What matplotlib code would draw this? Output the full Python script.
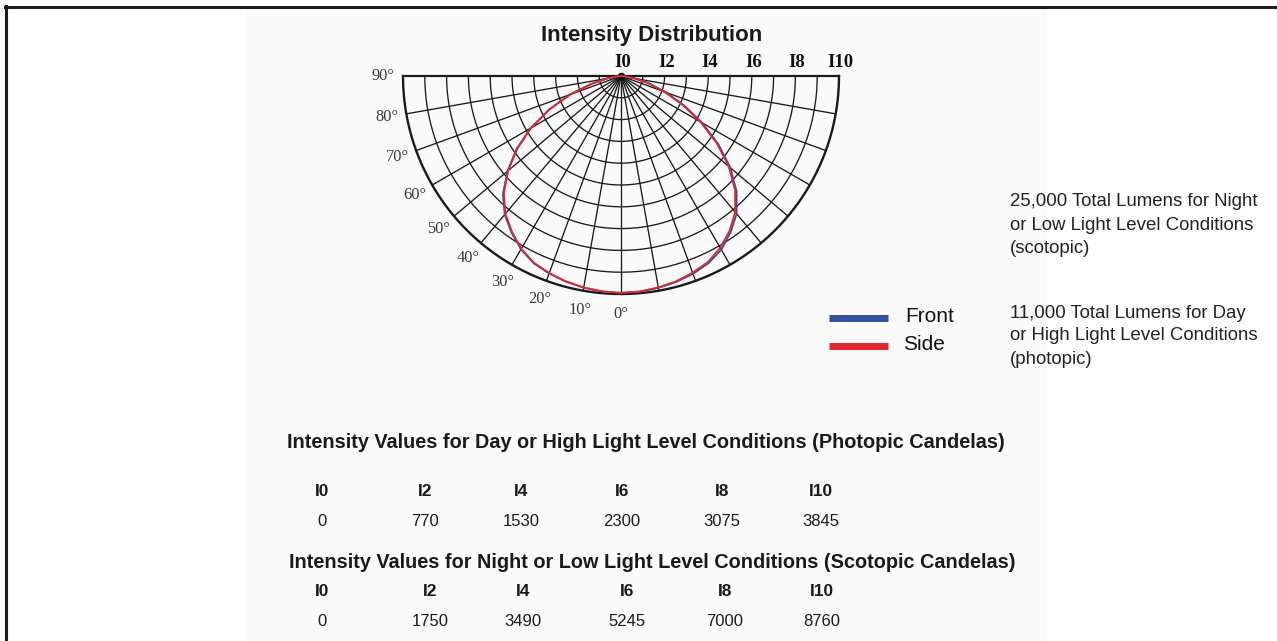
import numpy as np
import matplotlib
matplotlib.use("Agg")
import matplotlib.pyplot as plt
from matplotlib.lines import Line2D
from matplotlib.patches import Rectangle

W, H = 1277, 641

# polar intensity profile, angle measured from straight down (0 deg) to horizontal (90 deg)
angles = [0, 5, 10, 15, 20, 25, 30, 35, 40, 45, 50, 55, 60, 65, 70, 75, 80, 85, 90]
side_left = [9.95, 9.92, 9.85, 9.75, 9.62, 9.45, 9.15, 8.72, 8.25, 7.6, 6.75, 5.8, 4.75, 3.6, 2.45, 1.4, 0.62, 0.18, 0]
side_right = [9.95, 9.92, 9.85, 9.75, 9.6, 9.42, 9.1, 8.68, 8.15, 7.4, 6.45, 5.35, 4.2, 3.1, 2.1, 1.3, 0.6, 0.18, 0]
front_left = [9.95, 9.92, 9.86, 9.77, 9.64, 9.48, 9.18, 8.76, 8.3, 7.66, 6.8, 5.86, 4.8, 3.65, 2.5, 1.43, 0.64, 0.18, 0]
front_right = [9.95, 9.93, 9.87, 9.78, 9.66, 9.48, 9.2, 8.76, 8.25, 7.5, 6.55, 5.45, 4.3, 3.2, 2.2, 1.36, 0.63, 0.18, 0]

ring_labels = ["I0", "I2", "I4", "I6", "I8", "I10"]
deg_labels = [0, 10, 20, 30, 40, 50, 60, 70, 80, 90]

header = ["I0", "I2", "I4", "I6", "I8", "I10"]
photopic = ["0", "770", "1530", "2300", "3075", "3845"]
scotopic = ["0", "1750", "3490", "5245", "7000", "8760"]

blue = "#3250a0"
red = "#e3262b"
sans = "Liberation Sans"
serif = "Liberation Serif"


def fx(px):
    return px / W


def fy(py):
    return 1 - py / H


fig = plt.figure(figsize=(W / 100, H / 100), dpi=100)
fig.patch.set_facecolor("white")

# faint panel + page frame
fig.patches.append(Rectangle((fx(245), 0), fx(1047) - fx(245), fy(8), transform=fig.transFigure,
                             facecolor="#fafafa", edgecolor="none", zorder=-5))
fig.add_artist(Line2D([fx(5), 1], [fy(6.5), fy(6.5)], lw=2.2, color="#1c1c1c"))
fig.add_artist(Line2D([fx(6), fx(6)], [fy(5.5), 0], lw=2.2, color="#1c1c1c"))

# polar diagram drawn in a cartesian axes, 1 unit = U pixels
U = 21.8
cx, cy = 621, 76
ax = fig.add_axes([fx(cx - 13 * U), fy(cy + 12 * U), 26 * U / W, 15 * U / H])
ax.set_xlim(-13, 13)
ax.set_ylim(-12, 3)
ax.axis("off")

t = np.linspace(np.pi, 2 * np.pi, 300)
for r in range(1, 11):
    ax.plot(r * np.cos(t), r * np.sin(t), color="#1a1a1a", lw=1.7 if r == 10 else 0.95, zorder=2)
for a in range(0, 181, 10):
    p = np.radians(180 + a)
    ax.plot([0, 10 * np.cos(p)], [0, 10 * np.sin(p)], color="#1a1a1a",
            lw=1.6 if a in (0, 180) else 0.95, zorder=2)
ax.plot(0, 0, "o", ms=4.5, color="black", zorder=3)


def curve(left, right):
    th = np.radians(angles)
    lv = np.array(left)
    rv = np.array(right)
    x = np.concatenate([(-lv * np.sin(th))[::-1], rv * np.sin(th)])
    y = np.concatenate([(-lv * np.cos(th))[::-1], -rv * np.cos(th)])
    return x, y


xf, yf = curve(front_left, front_right)
xs, ys = curve(side_left, side_right)
ax.plot(xf, yf, color=blue, lw=1.3, zorder=4, solid_joinstyle="round")
ax.plot(xs, ys, color=red, lw=1.3, zorder=5, solid_joinstyle="round")

for d in deg_labels:
    th = np.radians(d)
    ax.text(-10.9 * np.sin(th), -10.9 * np.cos(th), f"{d}°", ha="center", va="center",
            fontsize=11.8, family=serif, color="#3a3a3a")

for i, lab in enumerate(ring_labels):
    ax.text(2 * i + 0.08, 0.62, lab, ha="center", va="center", fontsize=13.5, family=serif,
            fontweight="bold", color="#111111")

fig.text(fx(652), fy(35), "Intensity Distribution", ha="center", va="center", fontsize=16,
         family=sans, fontweight="bold", color="#1a1a1a")

# legend
fig.add_artist(Line2D([fx(829), fx(888)], [fy(318), fy(318)], lw=5, color=blue, solid_capstyle="butt"))
fig.add_artist(Line2D([fx(829), fx(888)], [fy(346), fy(346)], lw=5, color=red, solid_capstyle="butt"))
fig.text(fx(905), fy(317), "Front", ha="left", va="center", fontsize=15, family=sans, color="#111111")
fig.text(fx(903), fy(345), "Side", ha="left", va="center", fontsize=15, family=sans, color="#111111")

# lumen notes
notes = ["25,000 Total Lumens for Night", "or Low Light Level Conditions", "(scotopic)",
         "11,000 Total Lumens for Day", "or High Light Level Conditions", "(photopic)"]
note_y = [202, 225, 248, 313, 336, 359]
for s, yy in zip(notes, note_y):
    fig.text(fx(1010), fy(yy), s, ha="left", va="center", fontsize=13.4, family=sans, color="#222222")

# value tables
fig.text(fx(646), fy(443), "Intensity Values for Day or High Light Level Conditions (Photopic Candelas)",
         ha="center", va="center", fontsize=14.3, family=sans, fontweight="bold", color="#1a1a1a")
fig.text(fx(652), fy(563), "Intensity Values for Night or Low Light Level Conditions (Scotopic Candelas)",
         ha="center", va="center", fontsize=14.3, family=sans, fontweight="bold", color="#1a1a1a")

col1 = [322, 425, 521, 622, 722, 821]
col2 = [322, 430, 523, 627, 725, 822]
for i in range(len(header)):
    fig.text(fx(col1[i]), fy(492), header[i], ha="center", va="center", fontsize=12.5,
             family=sans, fontweight="bold", color="#1a1a1a")
    fig.text(fx(col1[i]), fy(521), photopic[i], ha="center", va="center", fontsize=12,
             family=sans, color="#1a1a1a")
    fig.text(fx(col2[i]), fy(592), header[i], ha="center", va="center", fontsize=12.5,
             family=sans, fontweight="bold", color="#1a1a1a")
    fig.text(fx(col2[i]), fy(621), scotopic[i], ha="center", va="center", fontsize=12,
             family=sans, color="#1a1a1a")

fig.savefig("out.png", dpi=100)
